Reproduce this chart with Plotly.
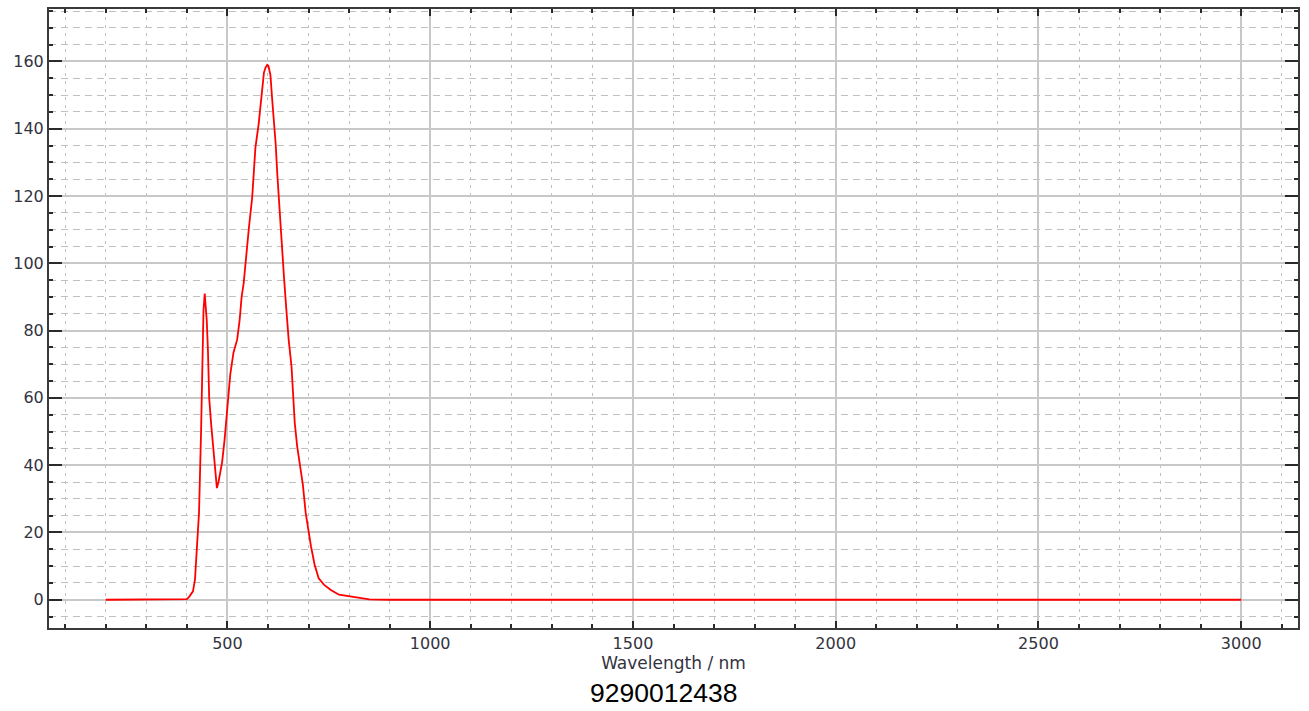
import plotly.graph_objects as go

# Wavelength (nm) and signal values
wavelength = [200, 300, 395, 400, 405, 410, 415, 420, 425, 430, 435, 438, 441, 444, 446,
              449, 452, 455, 460, 465, 470, 474, 478, 482, 487, 493, 497, 503, 507, 515,
              524, 530, 535, 540, 544, 548, 553, 561, 565, 569, 577, 582, 586, 590, 594,
              598, 601, 606, 610, 615, 619, 623, 627, 631, 635, 639, 645, 651, 658, 662,
              666, 672, 680, 686, 693, 699, 706, 715, 725, 738, 754, 775, 800, 850, 900,
              1500, 2000, 2500, 3000]
signal = [0, 0, 0, 0.2, 0.8, 1.5, 2.5, 6, 15, 26, 50, 70, 86, 91, 88,
          83, 74, 60, 52, 45, 37, 33.2, 35, 38, 41, 47.6, 53.5, 60.5, 67, 73.5,
          77.3, 83, 90, 94, 99.6, 104, 110.6, 119.5, 128.5, 134.4, 141.4, 147.3, 152.8, 156.7, 158.2,
          159, 158.7, 156, 149.3, 142.4, 135.4, 126.5, 118.5, 110.6, 102.7, 96.7, 86.7, 77.3, 69.4, 61,
          52.6, 45.6, 39.6, 34.2, 25.8, 20.8, 15.9, 10.4, 6.4, 4.5, 3, 1.5, 1.0, 0.1, 0,
          0, 0, 0, 0]

x_title = "Wavelength / nm"
sample_id = "9290012438"

tick_font = dict(family="DejaVu Sans", size=16, color="#333340")

fig = go.Figure()
fig.add_trace(go.Scatter(x=wavelength, y=signal, mode="lines",
                         line=dict(color="#ff0000", width=1.8), showlegend=False))

fig.update_layout(
    width=1309, height=711,
    margin=dict(l=49, r=11, t=9, b=83, autoexpand=False),
    paper_bgcolor="white", plot_bgcolor="white",
)

fig.update_xaxes(
    range=[60, 3140], tick0=0, dtick=500, automargin=False,
    showline=True, linecolor="#3a3a3a", linewidth=2, mirror="allticks",
    ticks="inside", ticklen=7, tickwidth=2, tickcolor="#2a2a2a",
    showgrid=True, gridcolor="#c8c8c8", gridwidth=1.5,
    zeroline=False,
    tickfont=tick_font,
    title=dict(text=x_title, font=dict(family="DejaVu Sans", size=17, color="#333340"), standoff=5),
    minor=dict(dtick=100, ticks="inside", ticklen=4, tickwidth=1.5, tickcolor="#2a2a2a",
               showgrid=True, gridcolor="#c0c0c0", gridwidth=1, griddash="3px,5px"),
)

fig.update_yaxes(
    range=[-8.4, 175.6], tick0=0, dtick=20, automargin=False,
    showline=True, linecolor="#3a3a3a", linewidth=2, mirror="allticks",
    ticks="inside", ticklen=13, tickwidth=2, tickcolor="#2a2a2a",
    showgrid=True, gridcolor="#c8c8c8", gridwidth=1.5,
    zeroline=False,
    tickfont=tick_font,
    minor=dict(dtick=5, ticks="inside", ticklen=4, tickwidth=1.5, tickcolor="#2a2a2a",
               showgrid=True, gridcolor="#c0c0c0", gridwidth=1, griddash="7px,5px"),
)

fig.add_annotation(text=sample_id, xref="paper", yref="paper",
                   x=(663 - 49) / 1249, y=(628 - 693) / 619,
                   xanchor="center", yanchor="middle", showarrow=False,
                   font=dict(family="Liberation Sans", size=26.5, color="#000000"))

fig.write_html("out.html", config={"displayModeBar": False},
               post_script="document.body.style.margin='0';document.body.style.overflow='hidden';")
